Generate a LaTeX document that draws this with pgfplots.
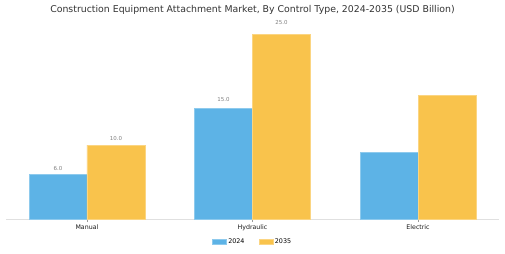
\documentclass[border=0pt]{standalone}
\usepackage{pgfplots}
\pgfplotsset{compat=1.18}
\usepackage{fontspec}
\setmainfont{DejaVu Sans}
\definecolor{cblue}{HTML}{5DB3E6}
\definecolor{cyel}{HTML}{F9C34C}
\begin{document}
\begin{tikzpicture}[x=1bp,y=1bp]
\useasboundingbox (0,0) rectangle (505,253);
\node[font=\fontsize{9.4}{11}\selectfont, text=black!80] at (252.5,243) {Construction Equipment Attachment Market, By Control Type, 2024-2035 (USD Billion)};
\begin{axis}[
  at={(6bp,34bp)}, anchor=south west,
  scale only axis, width=493bp, height=192.4bp,
  xmin=-0.489, xmax=2.489, ymin=0, ymax=26,
  axis y line=none, axis x line=bottom,
  x axis line style={-, draw=black!12, line width=0.8bp},
  xtick={0,1,2}, xticklabels={Manual,Hydraulic,Electric},
  xtick style={draw=black!40, line width=0.5bp},
  major tick length=3bp, tick align=outside,
  xticklabel style={font=\fontsize{6.3}{7}\selectfont, text=black!90, yshift=1bp},
  ybar=0pt, bar width=57.9bp,
  clip=false,
  point meta=explicit symbolic,
  visualization depends on={y \as \rawy},
  nodes near coords,
  every node near coord/.append style={font=\fontsize{5.5}{6}\selectfont, text=black!50, anchor=center, yshift={3.7+0.33*\rawy}},
  legend style={at={(0.5,-0.118)}, anchor=center, legend columns=2, draw=none, fill=none,
    font=\fontsize{6.4}{7}\selectfont, /tikz/every even column/.append style={column sep=12bp}},
  legend image code/.code={\fill[#1] (0bp,-2.2bp) rectangle (14bp,2.2bp);},
]
\addplot[fill=cblue, draw=cblue!70!white, line width=0.4bp] coordinates {(0,6.0) [6.0] (1,15.0) [15.0] (2,9.0) []};
\addplot[fill=cyel, draw=cyel!70!white, line width=0.4bp] coordinates {(0,10.0) [10.0] (1,25.0) [25.0] (2,16.7) []};
\legend{2024,2035}
\end{axis}
\end{tikzpicture}
\end{document}
